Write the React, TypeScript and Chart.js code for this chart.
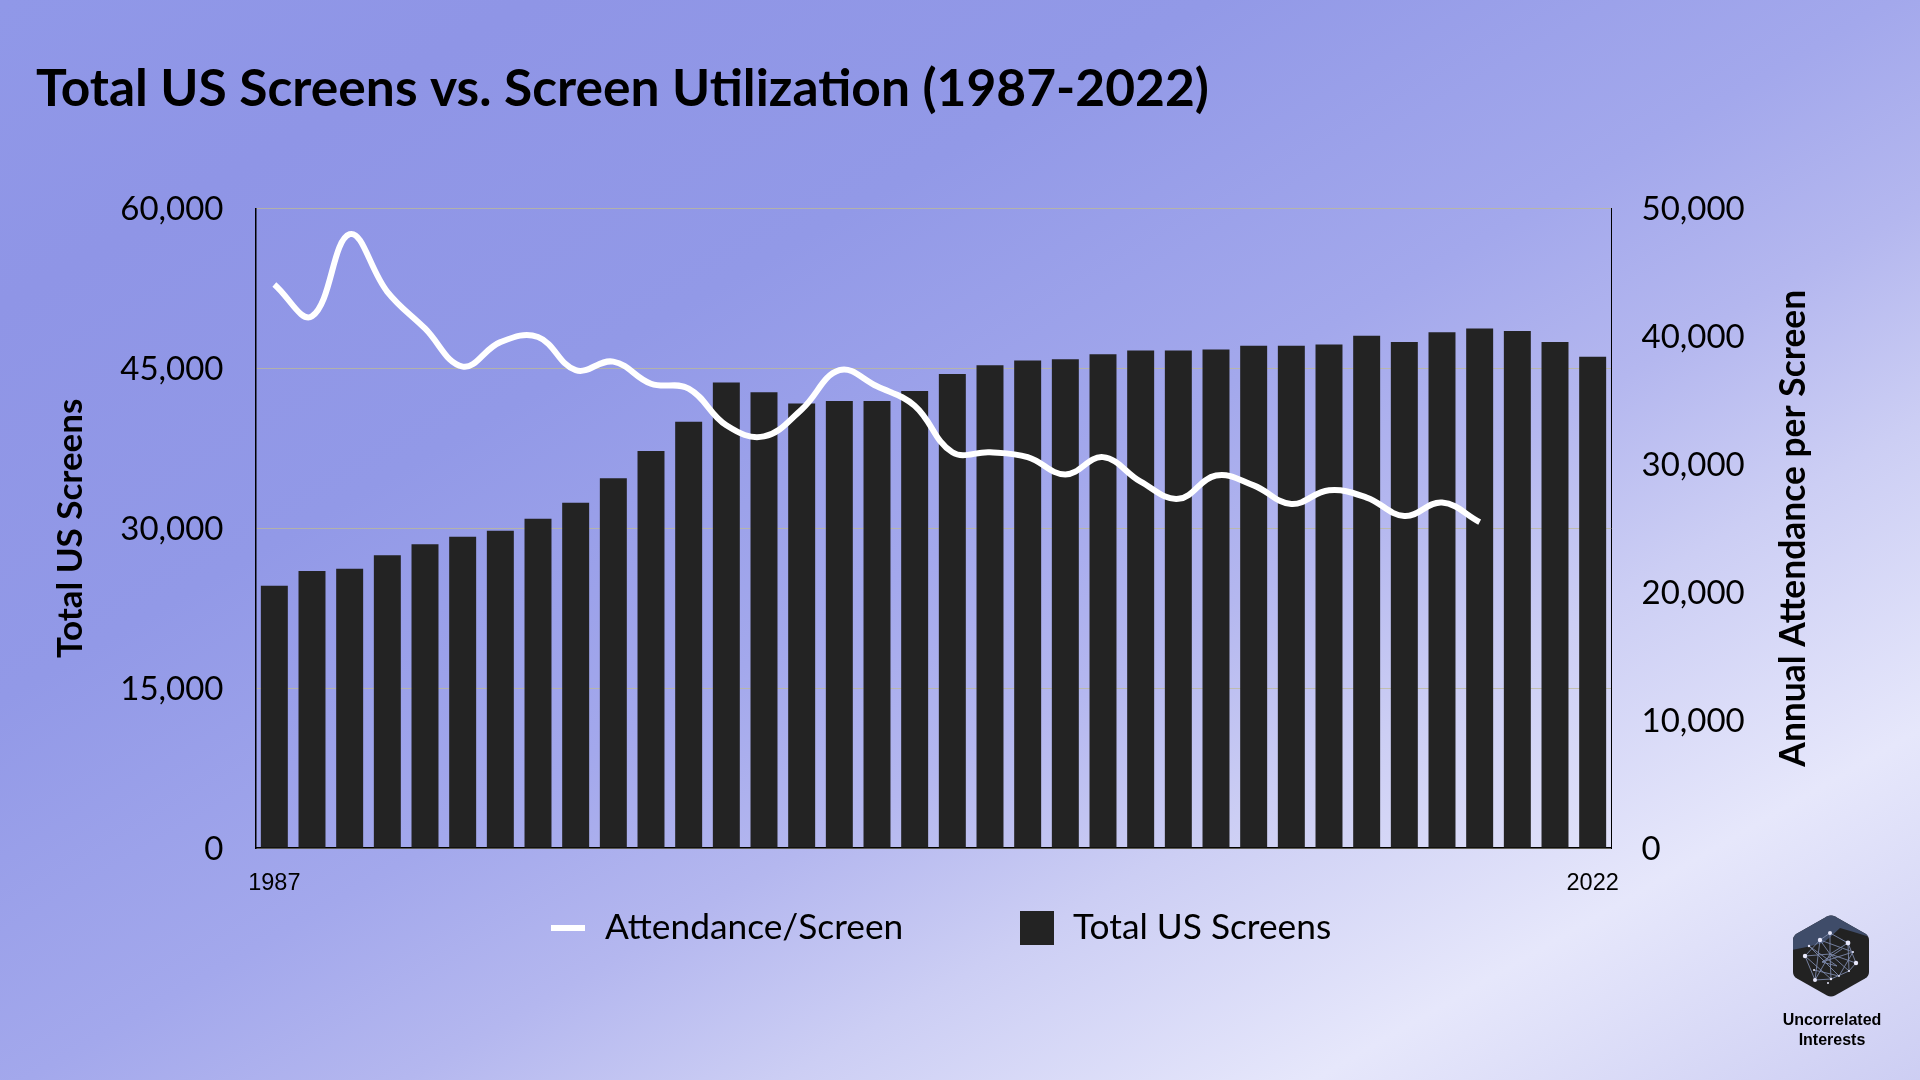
import { useEffect, useRef } from 'react';
import { Chart, registerables } from 'chart.js';
import type { Plugin } from 'chart.js';

Chart.register(...registerables);

const years = [
  '1987', '1988', '1989', '1990', '1991', '1992', '1993', '1994', '1995', '1996', '1997', '1998',
  '1999', '2000', '2001', '2002', '2003', '2004', '2005', '2006', '2007', '2008', '2009', '2010',
  '2011', '2012', '2013', '2014', '2015', '2016', '2017', '2018', '2019', '2020', '2021', '2022',
];
const totalScreens = [
  24600, 25980, 26200, 27470, 28500, 29200, 29770, 30900, 32400, 34700, 37240, 40000,
  43680, 42760, 41700, 41950, 41950, 42870, 44480, 45290, 45750, 45860, 46320, 46670,
  46670, 46780, 47130, 47130, 47240, 48050, 47470, 48390, 48740, 48500, 47470, 46090,
];
const attendancePerScreen = [
  44060, 41570, 47990, 43490, 40620, 37640, 39550, 39950, 37360, 38030, 36300, 35920,
  33050, 32180, 34290, 37360, 36100, 34580, 30940, 30940, 30560, 29210, 30560, 28640,
  27300, 29120, 28350, 26900, 27970, 27400, 25960, 27010, 25480, null, null, null,
];

const titleText = 'Total US Screens vs. Screen Utilization (1987-2022)';
const leftAxisTitle = 'Total US Screens';
const rightAxisTitle = 'Annual Attendance per Screen';
const lineLabel = 'Attendance/Screen';
const barLabel = 'Total US Screens';

const BAR_COLOR = '#232323';
const GRID_COLOR = 'rgba(190,185,150,0.75)';

// Chart.js always turns a right axis title clockwise, the reference reads bottom to top
const rightTitlePlugin: Plugin<'bar'> = {
  id: 'rightTitle',
  afterDraw(chart) {
    const { ctx, chartArea } = chart;
    ctx.save();
    ctx.translate(1794, (chartArea.top + chartArea.bottom) / 2);
    ctx.rotate(-Math.PI / 2);
    ctx.font = '700 35.4px Lato';
    ctx.fillStyle = '#000';
    ctx.textAlign = 'center';
    ctx.textBaseline = 'middle';
    ctx.fillText(rightAxisTitle, 0, 0);
    ctx.restore();
  },
};

function Logo() {
  return (
    <svg width="78" height="84" viewBox="0 0 78 84" style={{ position: 'absolute', left: 1792, top: 914 }}>
      <defs>
        <clipPath id="hex">
          <path d="M35 2.5Q39 .5 43 2.5L73 19.5Q77 22 77 26V58Q77 62 73 64.5L43 81.5Q39 83.5 35 81.5L5 64.5Q1 62 1 58V26Q1 22 5 19.5Z" />
        </clipPath>
      </defs>
      <g clipPath="url(#hex)">
        <rect width="78" height="84" fill="#222222" />
        <path d="M0 0H78V23Q62 18 48 14Q40 22 31 29Q16 33 0 36Z" fill="#3f4c69" />
        <g stroke="#7d89ab" strokeWidth="0.9" fill="none">
          <path d="M28 26L38 19L56 29L64 49L57 57L39 65L23 66L13 42L28 26M28 26L38 40L56 29M13 42L38 40L64 49M23 66L38 40L57 57M38 19L38 40M28 26L23 66M39 65L38 40M56 29L57 57M17 32L45 52L30 48L50 35M22 56L47 62L61 38L30 48M17 32L47 62M13 42L39 65M61 38L28 26" />
        </g>
        <g fill="#e8e8fb">
          <circle cx="28" cy="26" r="2.2" />
          <circle cx="38" cy="19" r="2" />
          <circle cx="56" cy="29" r="2.4" />
          <circle cx="13" cy="42" r="2.2" />
          <circle cx="64" cy="49" r="2.2" />
          <circle cx="23" cy="66" r="2" />
          <circle cx="39" cy="65" r="1.2" />
          <circle cx="36" cy="69" r="1" />
          <circle cx="57" cy="57" r="1.1" />
          <circle cx="17" cy="32" r="1.2" />
          <circle cx="22" cy="56" r="1" />
          <circle cx="47" cy="62" r="0.9" />
          <circle cx="61" cy="38" r="1" />
        </g>
      </g>
    </svg>
  );
}

export default function App() {
  const canvasRef = useRef<HTMLCanvasElement>(null);

  useEffect(() => {
    if (!canvasRef.current) return undefined;
    const lastIndex = years.length - 1;
    const chart = new Chart(canvasRef.current, {
      type: 'bar',
      data: {
        labels: years,
        datasets: [
          {
            type: 'line',
            label: lineLabel,
            data: attendancePerScreen,
            yAxisID: 'yRight',
            borderColor: '#ffffff',
            borderWidth: 6,
            tension: 0.4,
            pointRadius: 0,
            order: 0,
          },
          {
            type: 'bar',
            label: barLabel,
            data: totalScreens,
            yAxisID: 'yLeft',
            backgroundColor: BAR_COLOR,
            barPercentage: 0.716,
            categoryPercentage: 1,
            order: 1,
          },
        ],
      } as any,
      options: {
        responsive: false,
        animation: false,
        layout: { padding: { left: 36, right: 0, top: 0, bottom: 0 } },
        plugins: {
          legend: { display: false },
          tooltip: { enabled: false },
          title: {
            display: true,
            text: titleText,
            align: 'start',
            color: '#000',
            font: { family: 'Lato', size: 51.5, weight: 700, lineHeight: 1.2 },
            padding: { top: 58, bottom: 88.7 },
          },
        },
        scales: {
          x: {
            afterFit: s => { s.height = 232; },
            grid: { display: false },
            border: { color: '#000', width: 1.5 },
            ticks: {
              autoSkip: false,
              maxRotation: 0,
              padding: 13,
              color: '#000',
              font: { family: 'Liberation Sans', size: 23.5 },
              callback: (_v, i) => (i === 0 || i === lastIndex ? years[i] : ''),
            },
          },
          yLeft: {
            position: 'left',
            min: 0,
            max: 60000,
            afterFit: s => { s.width = 219.5; },
            grid: { color: GRID_COLOR, lineWidth: 1, drawTicks: false },
            border: { color: '#000', width: 1.5 },
            ticks: {
              stepSize: 15000,
              padding: 32,
              labelOffset: 1,
              color: '#000',
              font: { family: 'Lato', size: 33, weight: 400 },
            },
            title: {
              display: true,
              text: leftAxisTitle,
              color: '#000',
              font: { family: 'Lato', size: 35, weight: 700, lineHeight: 1.2 },
              padding: { top: 14, bottom: 0 },
            },
          },
          yRight: {
            position: 'right',
            min: 0,
            max: 50000,
            afterFit: s => { s.width = 308.5; },
            grid: { display: false, drawTicks: false },
            border: { color: '#000', width: 1 },
            ticks: {
              stepSize: 10000,
              padding: 30,
              labelOffset: 1,
              color: '#000',
              font: { family: 'Lato', size: 33, weight: 400 },
            },
          },
        },
      },
      plugins: [rightTitlePlugin],
    });
    return () => chart.destroy();
  }, []);

  const legendText = { position: 'absolute', top: 905, fontSize: 35.3, lineHeight: '42px', color: '#000', whiteSpace: 'nowrap' } as const;

  return (
    <div
      style={{
        position: 'fixed',
        left: 0,
        top: 0,
        width: 1920,
        height: 1080,
        overflow: 'hidden',
        fontFamily: 'Lato',
        background:
          'linear-gradient(150deg, #9098e8 0%, #8f95e6 14%, #9299e7 32%, #a3a8ec 50%, #b4b7ef 60%, #cccef4 70%, #e6e7fb 84%, #cdcef3 100%)',
      }}
    >
      <canvas ref={canvasRef} width={1920} height={1080} style={{ display: 'block', position: 'absolute', left: 0, top: 0 }} />
      <div style={{ position: 'absolute', left: 551, top: 925, width: 34, height: 6, background: '#fff' }} />
      <span style={{ ...legendText, left: 605 }}>{lineLabel}</span>
      <div style={{ position: 'absolute', left: 1020, top: 911, width: 34, height: 34, background: BAR_COLOR }} />
      <span style={{ ...legendText, left: 1073 }}>{barLabel}</span>
      <Logo />
      <div
        style={{
          position: 'absolute',
          left: 1752,
          top: 1010,
          width: 160,
          textAlign: 'center',
          fontFamily: 'Liberation Sans',
          fontWeight: 700,
          fontSize: 16,
          lineHeight: '19.5px',
          color: '#000',
        }}
      >
        Uncorrelated
        <br />
        Interests
      </div>
    </div>
  );
}
